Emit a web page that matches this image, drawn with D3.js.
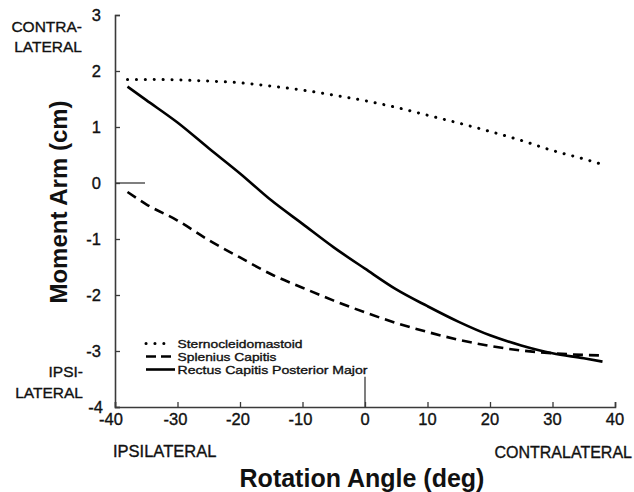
<!DOCTYPE html>
<html>
<head>
<meta charset="utf-8">
<script src="https://cdn.jsdelivr.net/npm/d3@7"></script>
<style>
  html, body { margin: 0; padding: 0; background: #fff; }
  svg { display: block; font-family: "Liberation Sans", Arial, Helvetica, sans-serif; }
  .txt { fill: #111; stroke: #111; stroke-width: 0.35; }
</style>
</head>
<body>
<svg id="chart" width="634" height="492"></svg>
<script>
// ---- data ----
const angles = [-38, -35, -30, -25, -20, -15, -10, -5, 0, 5, 10, 15, 20, 25, 30, 35, 38];
const sternocleidomastoid = [1.85, 1.85, 1.84, 1.82, 1.79, 1.73, 1.66, 1.57, 1.47, 1.35, 1.21, 1.07, 0.92, 0.76, 0.58, 0.43, 0.33];
const spleniusCapitis = [-0.16, -0.38, -0.67, -1.02, -1.33, -1.63, -1.87, -2.10, -2.31, -2.50, -2.66, -2.80, -2.91, -2.99, -3.04, -3.07, -3.08];
const rectusCapitis = [1.72, 1.48, 1.08, 0.62, 0.17, -0.31, -0.73, -1.15, -1.53, -1.90, -2.20, -2.48, -2.72, -2.90, -3.04, -3.13, -3.19];
const seriesNames = ["Sternocleidomastoid", "Splenius Capitis", "Rectus Capitis Posterior Major"];
const xTicks = [-40, -30, -20, -10, 0, 10, 20, 30, 40];
const yTicks = [-4, -3, -2, -1, 0, 1, 2, 3];

const series = [
  { name: seriesNames[0], values: sternocleidomastoid, dash: "0.1 8.8", width: 3, cap: "round" },
  { name: seriesNames[1], values: spleniusCapitis, dash: "10 6", width: 2.6, cap: "butt" },
  { name: seriesNames[2], values: rectusCapitis, dash: null, width: 2.6, cap: "butt" }
];

const svg = d3.select("#chart");
const x = d3.scaleLinear().domain([-40, 40]).range([115, 615]);
const y = d3.scaleLinear().domain([-4, 3]).range([407, 15]);
const axisColor = "#3a3a3a";

// axes
const gx = svg.append("g").attr("transform", `translate(0,${y(-4)})`)
  .call(d3.axisTop(x).tickValues(xTicks).tickSize(5).tickFormat(""));
const gy = svg.append("g").attr("transform", `translate(${x(-40)},0)`)
  .call(d3.axisRight(y).tickValues(yTicks).tickSize(5).tickFormat(""));
[gx, gy].forEach(g => {
  g.select(".domain").attr("stroke", axisColor).attr("stroke-width", 1.6);
  g.selectAll(".tick line").attr("stroke", axisColor).attr("stroke-width", 1.3);
});

// reference marks at 0
svg.append("line").attr("x1", x(-40)).attr("x2", x(-35.2)).attr("y1", y(0)).attr("y2", y(0))
  .attr("stroke", axisColor).attr("stroke-width", 1.3);
svg.append("line").attr("x1", x(0)).attr("x2", x(0)).attr("y1", y(-4)).attr("y2", y(-3.46))
  .attr("stroke", axisColor).attr("stroke-width", 1.3);

// tick labels
svg.append("g").selectAll("text").data(xTicks).join("text")
  .attr("class", "txt")
  .attr("x", d => x(d) + (d === -40 ? -4 : d < 0 ? -2 : 0))
  .attr("y", 424.5)
  .attr("text-anchor", "middle")
  .attr("font-size", 16.5)
  .text(d => d);
svg.append("g").selectAll("text").data(yTicks).join("text")
  .attr("class", "txt")
  .attr("x", d => d === -4 ? 103 : 101)
  .attr("y", d => y(d) + 6)
  .attr("text-anchor", "end")
  .attr("font-size", 16.5)
  .text(d => d);

// lines
const line = d3.line().x((d, i) => x(angles[i])).y(d => y(d)).curve(d3.curveMonotoneX);
series.forEach(s => {
  svg.append("path")
    .attr("d", line(s.values))
    .attr("fill", "none")
    .attr("stroke", "#000")
    .attr("stroke-width", s.width)
    .attr("stroke-linecap", s.cap)
    .attr("stroke-dasharray", s.dash);
});

// legend
const legendRows = [343.5, 356.5, 369.5];
const legendWidths = [125, 99, 190];
series.forEach((s, i) => {
  svg.append("line")
    .attr("x1", 146).attr("x2", i === 2 ? 175 : 171)
    .attr("y1", legendRows[i]).attr("y2", legendRows[i])
    .attr("stroke", "#000")
    .attr("stroke-width", s.width)
    .attr("stroke-linecap", s.cap)
    .attr("stroke-dasharray", s.dash ? (i === 0 ? "0.1 8.8" : "10 5") : null);
  svg.append("text")
    .attr("class", "txt")
    .attr("x", 177.5).attr("y", legendRows[i] + 4.3)
    .attr("font-size", 11.6)
    .attr("textLength", legendWidths[i])
    .attr("lengthAdjust", "spacingAndGlyphs")
    .text(s.name);
});

// side labels
const sideLabels = [
  { t: "CONTRA-", x: 82, y: 32 }, { t: "LATERAL", x: 82, y: 52 },
  { t: "IPSI-", x: 83, y: 377 }, { t: "LATERAL", x: 83, y: 398 }
];
svg.append("g").selectAll("text").data(sideLabels).join("text")
  .attr("class", "txt")
  .attr("x", d => d.x).attr("y", d => d.y)
  .attr("text-anchor", "end")
  .attr("font-size", 15.5)
  .text(d => d.t);

svg.append("text").attr("class", "txt").attr("x", 113).attr("y", 457).attr("font-size", 16.5)
  .text("IPSILATERAL");
svg.append("text").attr("class", "txt").attr("x", 632).attr("y", 458).attr("text-anchor", "end").attr("font-size", 16)
  .text("CONTRALATERAL");

// axis titles
svg.append("text").attr("x", 362).attr("y", 487).attr("text-anchor", "middle")
  .attr("font-size", 25).attr("font-weight", "bold").attr("fill", "#111")
  .text("Rotation Angle (deg)");
svg.append("text").attr("transform", "translate(67,202) rotate(-90)").attr("text-anchor", "middle")
  .attr("font-size", 24).attr("font-weight", "bold").attr("fill", "#111")
  .text("Moment Arm (cm)");
</script>
</body>
</html>
